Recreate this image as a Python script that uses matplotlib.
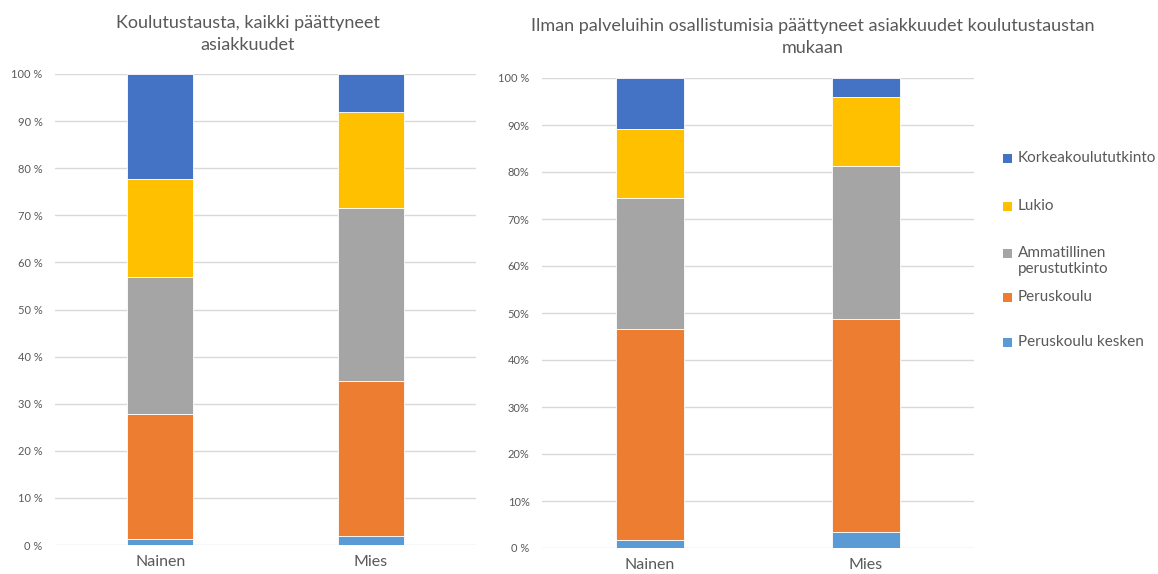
import matplotlib.pyplot as plt
from matplotlib.patches import Rectangle

plt.rcParams['font.family'] = ['Lato', 'DejaVu Sans']

# data (shares of each gender, stacked bottom -> top)
groups = ["Nainen", "Mies"]
series = ["Peruskoulu kesken", "Peruskoulu", "Ammatillinen perustutkinto", "Lukio", "Korkeakoulututkinto"]
colors = ["#5B9BD5", "#ED7D31", "#A5A5A5", "#FFC000", "#4472C4"]

# all ended customerships
all_kesken = [0.012, 0.020]
all_perus = [0.267, 0.328]
all_ammat = [0.289, 0.367]
all_lukio = [0.210, 0.204]
all_korkea = [0.222, 0.081]

# ended without taking part in services
no_kesken = [0.016, 0.035]
no_perus = [0.450, 0.452]
no_ammat = [0.279, 0.325]
no_lukio = [0.147, 0.148]
no_korkea = [0.108, 0.040]

left_ticks = ["0 %", "10 %", "20 %", "30 %", "40 %", "50 %", "60 %", "70 %", "80 %", "90 %", "100 %"]
right_ticks = ["0 %", "10%", "20%", "30%", "40%", "50%", "60%", "70%", "80%", "90%", "100 %"]

grey_txt = "#595959"

fig = plt.figure(figsize=(11.58, 5.74), dpi=100)


def stacked(ax, data, ticklabels, width):
    bottom = [0.0, 0.0]
    for vals, col in zip(data, colors):
        ax.bar(range(len(groups)), vals, width, bottom=bottom, color=col,
               edgecolor="white", linewidth=0.6, zorder=3)
        bottom = [b + v for b, v in zip(bottom, vals)]
    ax.set_xlim(-0.5, 1.5)
    ax.set_ylim(0, 1)
    ax.set_yticks([i / 10 for i in range(11)])
    ax.set_yticklabels(ticklabels)
    ax.set_xticks(range(len(groups)))
    ax.set_xticklabels(groups)
    ax.tick_params(axis="y", length=0, pad=9, labelsize=8, labelcolor=grey_txt)
    ax.tick_params(axis="x", length=0, pad=7, labelsize=11.5, labelcolor=grey_txt)
    ax.grid(axis="y", color="#D9D9D9", linewidth=1, zorder=0)
    for s in ax.spines.values():
        s.set_visible(False)


ax1 = fig.add_axes([55 / 1158, 1 - 545 / 574, 421 / 1158, 471 / 574])
stacked(ax1, [all_kesken, all_perus, all_ammat, all_lukio, all_korkea], left_ticks, 0.314)

ax2 = fig.add_axes([542 / 1158, 1 - 548 / 574, 432 / 1158, 470 / 574])
stacked(ax2, [no_kesken, no_perus, no_ammat, no_lukio, no_korkea], right_ticks, 0.313)

fig.text(248 / 1158, 1 - 34 / 574, "Koulutustausta, kaikki päättyneet\nasiakkuudet",
         ha="center", va="center", fontsize=13, color=grey_txt, linespacing=1.45)
fig.text(813 / 1158, 1 - 37 / 574,
         "Ilman palveluihin osallistumisia päättyneet asiakkuudet koulutustaustan\nmukaan",
         ha="center", va="center", fontsize=13, color=grey_txt, linespacing=1.4)

# legend, drawn by hand to follow the uneven spacing of the original
leg_labels = ["Korkeakoulututkinto", "Lukio", "Ammatillinen\nperustutkinto", "Peruskoulu", "Peruskoulu kesken"]
leg_colors = ["#4472C4", "#FFC000", "#A5A5A5", "#ED7D31", "#5B9BD5"]
leg_y = [158, 206, 253, 297, 342]
for lab, col, y in zip(leg_labels, leg_colors, leg_y):
    fig.patches.append(Rectangle((1003 / 1158, 1 - (y + 5) / 574), 9 / 1158, 9 / 574,
                                 transform=fig.transFigure, facecolor=col, edgecolor="none"))
    fig.text(1018 / 1158, 1 - (y - 7) / 574, lab, ha="left", va="top", fontsize=11,
             color=grey_txt, linespacing=1.2)

fig.savefig("out.png", dpi=100)
